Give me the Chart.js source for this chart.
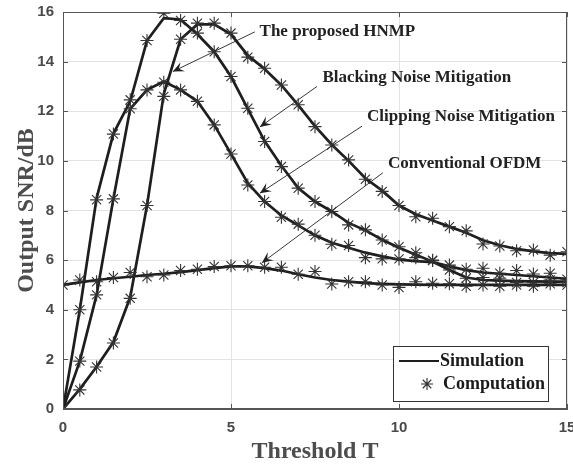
<!DOCTYPE html>
<html>
<head>
<meta charset="utf-8">
<script src="https://cdn.jsdelivr.net/npm/chart.js@4.4.1/dist/chart.umd.min.js"></script>
<style>
  html, body { margin: 0; padding: 0; background: #fff; }
  #wrap { width: 573px; height: 466px; position: relative; }
</style>
</head>
<body>
<div id="wrap"><canvas id="myChart"></canvas></div>
<script>
// thresholds (x axis)
const thresholds = [0, 0.5, 1, 1.5, 2, 2.5, 3, 3.5, 4, 4.5, 5, 5.5, 6, 6.5, 7, 7.5, 8, 8.5, 9, 9.5, 10, 10.5, 11, 11.5, 12, 12.5, 13, 13.5, 14, 14.5, 15];

// simulation curves (solid lines)
const hnmpSim  = [0, 0.8, 1.7, 2.7, 4.5, 8.2, 12.7, 14.9, 15.5, 15.5, 15.1, 14.25, 13.7, 13.05, 12.25, 11.4, 10.65, 10.0, 9.3, 8.8, 8.2, 7.85, 7.6, 7.35, 7.1, 6.8, 6.6, 6.45, 6.35, 6.28, 6.25];
const blankSim = [0, 4.0, 8.5, 11.1, 12.4, 14.85, 15.75, 15.7, 15.1, 14.4, 13.4, 12.1, 10.8, 9.8, 8.9, 8.36, 7.96, 7.5, 7.2, 6.82, 6.5, 6.22, 5.94, 5.6, 5.3, 5.2, 5.17, 5.15, 5.14, 5.13, 5.13];
const clipSim  = [0, 1.93, 4.6, 8.47, 12.1, 12.86, 13.2, 12.86, 12.4, 11.45, 10.28, 9.1, 8.36, 7.8, 7.4, 7.0, 6.7, 6.5, 6.3, 6.15, 6.02, 5.96, 5.92, 5.75, 5.6, 5.5, 5.45, 5.4, 5.35, 5.3, 5.25];
const convSim  = [5.0, 5.1, 5.2, 5.27, 5.33, 5.4, 5.45, 5.52, 5.6, 5.68, 5.75, 5.75, 5.68, 5.58, 5.43, 5.3, 5.2, 5.13, 5.07, 5.04, 5.02, 5.01, 5.0, 5.0, 5.0, 5.0, 5.0, 5.0, 5.0, 5.0, 5.0];

// computation points (star markers)
const hnmpCalc  = [0, 0.77, 1.69, 2.66, 4.46, 8.2, 12.6, 14.9, 15.55, 15.55, 15.15, 14.18, 13.73, 13.06, 12.26, 11.38, 10.64, 10.04, 9.26, 8.77, 8.2, 7.75, 7.69, 7.35, 7.18, 6.65, 6.57, 6.38, 6.41, 6.2, 6.34];
const blankCalc = [0, 4.0, 8.43, 11.08, 12.46, 14.85, 15.95, 15.66, 15.15, 14.4, 13.4, 12.12, 10.78, 9.77, 8.9, 8.36, 7.96, 7.42, 7.22, 6.81, 6.54, 6.3, 5.98, 5.6, 5.27, 5.3, 5.27, 5.1, 5.1, 5.2, 5.1];
const clipCalc  = [0, 1.93, 4.6, 8.47, 12.1, 12.86, 13.17, 12.86, 12.4, 11.45, 10.28, 9.03, 8.36, 7.73, 7.45, 7.0, 6.64, 6.59, 6.1, 6.05, 6.05, 6.1, 6.0, 5.8, 5.63, 5.67, 5.47, 5.58, 5.44, 5.47, 5.23];
const convCalc  = [5.0, 5.2, 5.13, 5.3, 5.5, 5.33, 5.4, 5.58, 5.63, 5.74, 5.77, 5.77, 5.71, 5.71, 5.43, 5.54, 5.04, 5.13, 5.13, 5.0, 4.9, 5.13, 5.07, 5.05, 4.95, 5.0, 4.95, 5.0, 4.95, 5.05, 5.0];

// axis ticks
const xTicks = [0, 5, 10, 15];
const yTicks = [0, 2, 4, 6, 8, 10, 12, 14, 16];

// curve labels with arrows (data units)
const notes = [
  { text: "The proposed HNMP",          at: [5.85, 15.2],  from: [5.71, 15.2],  to: [3.27, 13.6] },
  { text: "Blacking Noise Mitigation",  at: [7.72, 13.35], from: [7.56, 13.0],  to: [5.86, 11.37] },
  { text: "Clipping Noise Mitigation",  at: [9.05, 11.8],  from: [8.9, 11.4],   to: [5.86, 8.7] },
  { text: "Conventional OFDM",          at: [9.67, 9.88],  from: [9.52, 9.52],  to: [5.92, 5.89] }
];

const lineColor = "#1e1e1e";
const starColor = "#333";

function pairs(ys) {
  return thresholds.map((x, i) => ({ x: x, y: ys[i] }));
}

function simSet(ys) {
  return { type: "line", data: pairs(ys), borderColor: lineColor, borderWidth: 2.7,
           pointRadius: 0, tension: 0, fill: false, order: 2 };
}
function calcSet(ys) {
  return { type: "scatter", data: pairs(ys), showLine: false, pointStyle: "star",
           pointRadius: 6.5, borderColor: starColor, borderWidth: 1.1, backgroundColor: starColor, order: 1 };
}

function drawArrow(ctx, x1, y1, x2, y2) {
  ctx.beginPath();
  ctx.moveTo(x1, y1);
  ctx.lineTo(x2, y2);
  ctx.stroke();
  const a = Math.atan2(y2 - y1, x2 - x1);
  const len = 11, half = 5;
  const bx = x2 - len * Math.cos(a), by = y2 - len * Math.sin(a);
  const nx = x2 - len * 0.6 * Math.cos(a), ny = y2 - len * 0.6 * Math.sin(a);
  ctx.beginPath();
  ctx.moveTo(x2, y2);
  ctx.lineTo(bx + half * Math.sin(a), by - half * Math.cos(a));
  ctx.lineTo(nx, ny);
  ctx.lineTo(bx - half * Math.sin(a), by + half * Math.cos(a));
  ctx.closePath();
  ctx.fill();
}

const extras = {
  id: "extras",
  afterDatasetsDraw(chart) {
    const ctx = chart.ctx;
    const ca = chart.chartArea;
    const sx = chart.scales.x, sy = chart.scales.y;
    ctx.save();

    // box frame + inner ticks
    ctx.strokeStyle = "#555";
    ctx.lineWidth = 1;
    ctx.strokeRect(ca.left + 0.5, ca.top + 0.5, ca.right - ca.left - 1, ca.bottom - ca.top - 1);
    ctx.beginPath();
    xTicks.forEach(v => {
      const px = Math.round(sx.getPixelForValue(v)) + 0.5;
      ctx.moveTo(px, ca.bottom); ctx.lineTo(px, ca.bottom - 5);
      ctx.moveTo(px, ca.top); ctx.lineTo(px, ca.top + 5);
    });
    yTicks.forEach(v => {
      const py = Math.round(sy.getPixelForValue(v)) + 0.5;
      ctx.moveTo(ca.left, py); ctx.lineTo(ca.left + 5, py);
      ctx.moveTo(ca.right, py); ctx.lineTo(ca.right - 5, py);
    });
    ctx.stroke();

    // labels and arrows
    ctx.strokeStyle = "#222";
    ctx.fillStyle = "#222";
    ctx.lineWidth = 0.9;
    ctx.font = "bold 17px 'Liberation Serif', 'Times New Roman', serif";
    ctx.textBaseline = "middle";
    ctx.textAlign = "left";
    notes.forEach(n => {
      drawArrow(ctx, sx.getPixelForValue(n.from[0]), sy.getPixelForValue(n.from[1]),
                sx.getPixelForValue(n.to[0]), sy.getPixelForValue(n.to[1]));
      ctx.fillText(n.text, sx.getPixelForValue(n.at[0]), sy.getPixelForValue(n.at[1]));
    });

    // legend box
    const lw = 155, lh = 55;
    const lx = ca.right - 19 - lw, ly = ca.bottom - 8 - lh;
    ctx.fillStyle = "#fff";
    ctx.fillRect(lx, ly, lw, lh);
    ctx.strokeStyle = "#333";
    ctx.lineWidth = 1;
    ctx.strokeRect(lx + 0.5, ly + 0.5, lw, lh);
    ctx.strokeStyle = lineColor;
    ctx.lineWidth = 2.2;
    ctx.beginPath();
    ctx.moveTo(lx + 6, ly + 15); ctx.lineTo(lx + 46, ly + 15);
    ctx.stroke();
    // star
    ctx.strokeStyle = starColor;
    ctx.lineWidth = 1.1;
    const cx = lx + 34, cy = ly + 38, r = 6;
    ctx.beginPath();
    for (let k = 0; k < 4; k++) {
      const ang = k * Math.PI / 4;
      ctx.moveTo(cx - r * Math.cos(ang), cy - r * Math.sin(ang));
      ctx.lineTo(cx + r * Math.cos(ang), cy + r * Math.sin(ang));
    }
    ctx.stroke();
    ctx.fillStyle = "#1a1a1a";
    ctx.font = "bold 18px 'Liberation Serif', 'Times New Roman', serif";
    ctx.fillText("Simulation", lx + 47, ly + 15);
    ctx.fillText("Computation", lx + 50, ly + 38);

    ctx.restore();
  }
};

const tickFont = { family: "'Liberation Sans', Arial, sans-serif", size: 15, weight: "bold" };
const titleFont = { family: "'Liberation Serif', 'Times New Roman', serif", size: 24, weight: "bold" };

const ctx = document.getElementById("myChart").getContext("2d");
const myChart = new Chart(ctx, {
  data: {
    datasets: [
      simSet(hnmpSim), simSet(blankSim), simSet(clipSim), simSet(convSim),
      calcSet(hnmpCalc), calcSet(blankCalc), calcSet(clipCalc), calcSet(convCalc)
    ]
  },
  options: {
    responsive: true,
    maintainAspectRatio: false,
    animation: false,
    layout: { autoPadding: false, padding: { top: 12, right: 6, left: 0, bottom: 0 } },
    plugins: { legend: { display: false }, tooltip: { enabled: false } },
    scales: {
      x: {
        type: "linear", min: 0, max: 15,
        afterBuildTicks: s => { s.ticks = xTicks.map(v => ({ value: v })); },
        afterFit: s => { s.height = 57; s.paddingLeft = 0; s.paddingRight = 0; },
        ticks: { font: tickFont, color: "#4a4a4a", padding: 10, maxRotation: 0 },
        grid: { color: "#e3e3e3", drawTicks: false },
        border: { color: "#555" },
        title: { display: true, text: "Threshold T", font: titleFont, color: "#4d4d4d", padding: { top: 2, bottom: 0 } }
      },
      y: {
        type: "linear", min: 0, max: 16,
        afterBuildTicks: s => { s.ticks = yTicks.map(v => ({ value: v })); },
        afterFit: s => { s.width = 63; s.paddingTop = 0; s.paddingBottom = 0; },
        ticks: { font: tickFont, color: "#4a4a4a", padding: 9 },
        grid: { color: "#e3e3e3", drawTicks: false },
        border: { color: "#555" },
        title: { display: true, text: "Output SNR/dB", font: titleFont, color: "#4d4d4d", padding: { top: 12, bottom: 0 } }
      }
    }
  },
  plugins: [extras]
});
</script>
</body>
</html>
